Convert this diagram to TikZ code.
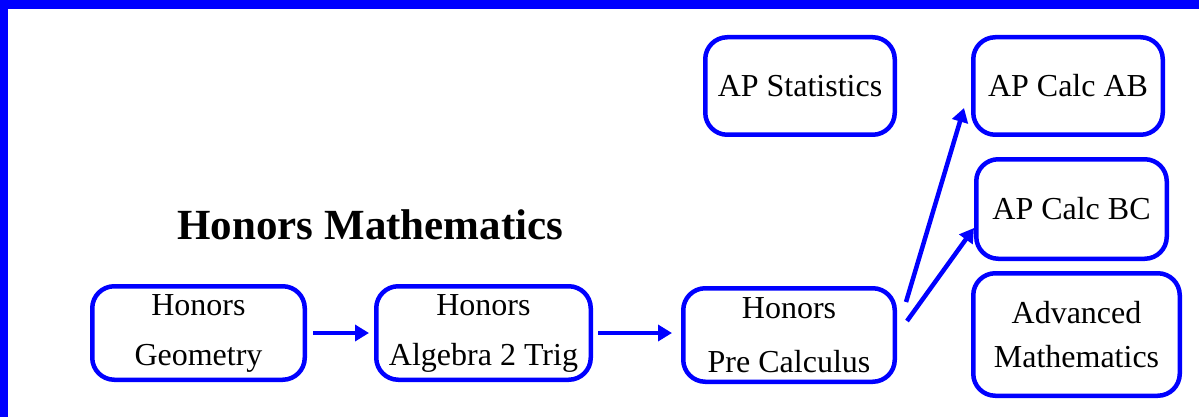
\documentclass[tikz,border=0pt]{standalone}
\usepackage{fontspec}
\setmainfont{Liberation Serif}
\usetikzlibrary{arrows.meta,calc}
\definecolor{pureblue}{RGB}{0,0,255}
\tikzset{
  course/.style={draw=pureblue, line width=4.5pt, rounded corners=22pt, inner sep=0pt,
    align=center, text=black, font=\fontsize{32}{50}\selectfont},
  flow/.style={draw=pureblue, line width=4.5pt, -{Triangle[length=14pt,width=16pt]}}
}
\begin{document}
\begin{tikzpicture}[x=1pt,y=-1pt]
\useasboundingbox (0,0) rectangle (1199,417);
\fill[white] (0,0) rectangle (1199,417);
\fill[pureblue] (0,0) rectangle (1199,9);
\fill[pureblue] (0,0) rectangle (8,417);

\node[anchor=base west, font=\fontsize{43}{50}\selectfont\bfseries] (title) at (174,239) {Honors Mathematics};

\node[course, minimum width=212.5pt, minimum height=93.5pt] (geo) at (198.5,333) {Honors\\Geometry};
\node[course, minimum width=214.5pt, minimum height=93.5pt] (alg) at (483.5,333) {Honors\\Algebra 2 Trig};
\node[course, minimum width=211.5pt, minimum height=93.5pt, font=\fontsize{32}{54}\selectfont] (pre) at (789,335) {Honors\\Pre Calculus};

\node[course, minimum width=189.5pt, minimum height=97.5pt] (stat) at (800,86) {AP Statistics};
\node[course, minimum width=189.5pt, minimum height=97.5pt] (ab) at (1068,86) {AP Calc AB};
\node[course, minimum width=190.5pt, minimum height=99.5pt] (bc) at (1071.5,209) {AP Calc BC};
\node[course, minimum width=206.5pt, minimum height=122.5pt, font=\fontsize{32}{44}\selectfont] (adv) at (1076.5,334.5) {Advanced\\Mathematics};

\draw[flow, shorten <=6pt, shorten >=5pt] (geo.east) -- (alg.west);
\draw[flow, shorten <=5pt, shorten >=9pt] (alg.east) -- (alg.east -| pre.west);
\draw[flow] ($(pre.east)+(9,-33)$) -- ($(ab.west)+(-7,22)$);
\draw[flow] ($(pre.east)+(10,-14)$) -- ($(bc.west)+(0,19)$);
\end{tikzpicture}
\end{document}
